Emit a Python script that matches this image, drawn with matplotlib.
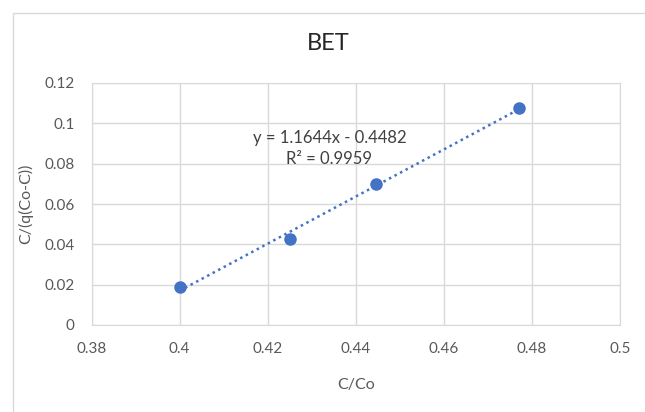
import numpy as np
import matplotlib
matplotlib.use('Agg')
import matplotlib.pyplot as plt
from matplotlib.patches import Rectangle

# 数据
x_vals = [0.4, 0.425, 0.4445, 0.477]
y_vals = [0.019, 0.0425, 0.070, 0.1075]
eq_text = 'y = 1.1644x - 0.4482\nR² = 0.9959'

plt.rcParams['font.family'] = ['Lato', 'DejaVu Sans']
blue = '#4472C4'
grey = '#595959'

fig = plt.figure(figsize=(6.45, 4.12), dpi=100)
# 外框
fig.patches.append(Rectangle((13 / 645, -0.1), 1.2, 1 - 13 / 412 + 0.1,
                             transform=fig.transFigure, fill=False,
                             edgecolor='#D9D9D9', lw=1))
ax = fig.add_axes([91.5 / 645, 1 - 325 / 412, (620 - 91.5) / 645, 242 / 412])

# 趋势线
k, b = np.polyfit(x_vals, y_vals, 1)
xl = np.array([min(x_vals), max(x_vals)])
ax.plot(xl, k * xl + b, linestyle=(0, (1, 1.5)), color=blue, lw=1.8, zorder=2)
ax.plot(x_vals, y_vals, 'o', color=blue, markersize=8, zorder=3)

ax.set_xlim(0.38, 0.5)
ax.set_ylim(0, 0.12)
ax.set_xticks(np.arange(0.38, 0.501, 0.02))
ax.set_yticks(np.arange(0, 0.121, 0.02))
ax.set_xticklabels(['0.38', '0.4', '0.42', '0.44', '0.46', '0.48', '0.5'])
ax.set_yticklabels(['0', '0.02', '0.04', '0.06', '0.08', '0.1', '0.12'])
ax.grid(True, color='#D9D9D9', lw=1)
ax.set_axisbelow(True)
for s in ax.spines.values():
    s.set_color('#D9D9D9')
ax.tick_params(length=0, labelsize=11, labelcolor=grey)
ax.tick_params(axis='x', pad=12)
ax.tick_params(axis='y', pad=12)

ax.text(0.434, 0.0875, eq_text, ha='center', va='center', fontsize=12,
        color='#404040', linespacing=1.45)

fig.text(328 / 645, 1 - 43 / 412, 'BET', ha='center', va='center', fontsize=17, color='#262626')
ax.set_xlabel('C/Co', fontsize=11.5, color=grey, labelpad=16)
ax.set_ylabel('C/(q(Co-C))', fontsize=11.5, color=grey, labelpad=8)

fig.savefig('out.png', dpi=100)
